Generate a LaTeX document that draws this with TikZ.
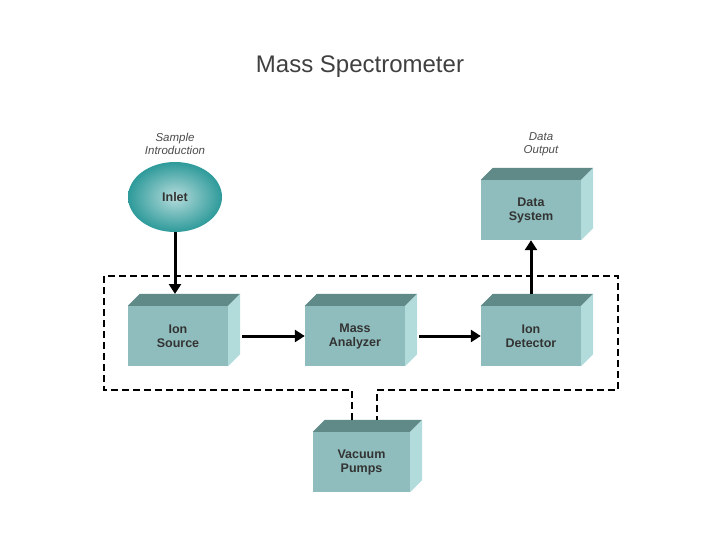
\documentclass[tikz,border=0pt]{standalone}
\usepackage{fontspec}
\setmainfont{Liberation Sans}
\usetikzlibrary{arrows.meta,shapes.geometric}
\definecolor{front}{HTML}{8FBDBD}
\definecolor{topf}{HTML}{5F8A88}
\definecolor{side}{HTML}{B2DCDC}
\definecolor{inletc}{HTML}{2E9A9A}
\begin{document}
\begin{tikzpicture}[x=1pt,y=-1pt,
  box/.style={rectangle,fill=front,minimum width=100pt,minimum height=60pt,inner sep=0pt,
    font=\fontsize{12.5}{14}\selectfont\bfseries,align=center,text=black!80},
  lbl/.style={font=\fontsize{11.5}{13}\selectfont\itshape,align=center,text=black!70},
  arr/.style={line width=3pt,-{Triangle[length=10pt,width=12pt]}},
  dsh/.style={line width=1.6pt,dash pattern=on 7pt off 4pt}]
\fill[white] (0,0) rectangle (720,540);
\useasboundingbox (0,0) rectangle (720,540);
\node[font=\fontsize{24}{26}\selectfont,text=black!75] (title) at (360,67) {Mass Spectrometer};
\node[box] (src) at (178,336) {Ion\\Source};
\node[box] (ma) at (355,336) {Mass\\Analyzer};
\node[box] (det) at (531,336) {Ion\\Detector};
\node[box] (ds) at (531,210) {Data\\System};
\node[box,minimum width=97pt] (vp) at (361.5,462) {Vacuum\\Pumps};
\foreach \n in {src,ma,det,ds,vp}{
  \fill[topf] (\n.north west) -- ++(12,-12) -- ([shift={(12,-12)}]\n.north east) -- (\n.north east) -- cycle;
  \fill[side] (\n.north east) -- ++(12,-12) -- ([shift={(12,-12)}]\n.south east) -- (\n.south east) -- cycle;
}
\shade[inner color=inletc!35,outer color=inletc] (175,197) ellipse (47 and 35);
\node[ellipse,minimum width=94pt,minimum height=70pt,font=\fontsize{12.5}{14}\selectfont\bfseries,text=black!80] (inlet) at (175,197) {Inlet};
\node[lbl] (si) at (175,144) {Sample\\Introduction};
\node[lbl] (do) at (541,144) {Data\\Output};
\draw[dsh] (352,420) -- (352,390) -- (104,390) -- (104,276) -- (618,276) -- (618,390) -- (377,390) -- (377,420);
\draw[arr] (inlet.south) -- (175,294);
\draw[arr] ([xshift=14pt]src.east) -- (ma.west);
\draw[arr] ([xshift=14pt]ma.east) -- (det.west);
\draw[arr] ([yshift=12pt]det.north) -- (ds.south);
\end{tikzpicture}
\end{document}
